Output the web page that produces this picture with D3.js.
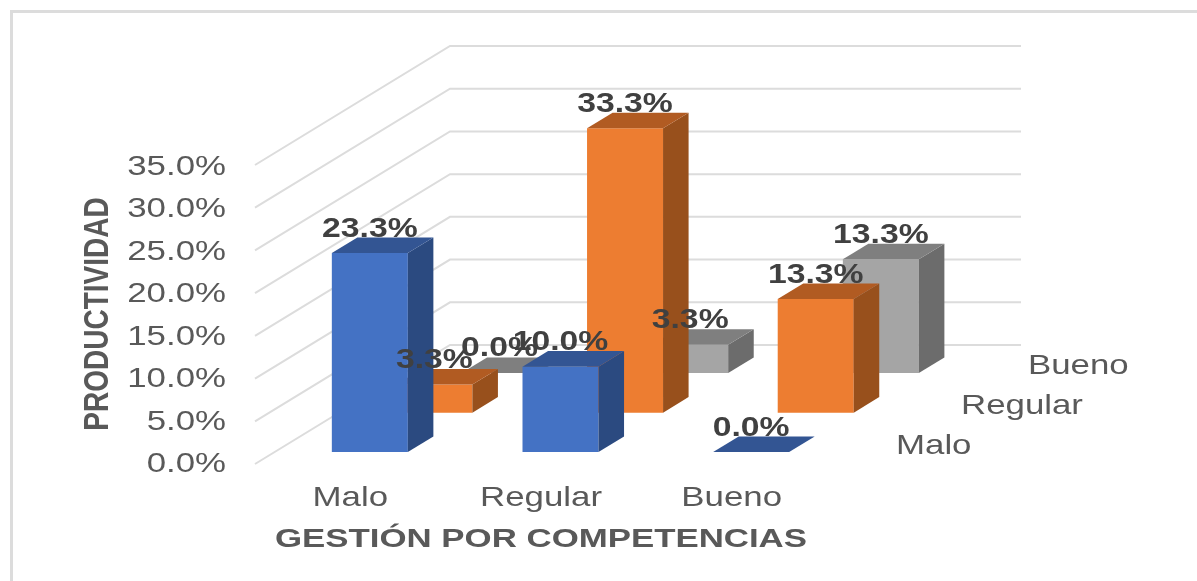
<!DOCTYPE html>
<html><head><meta charset="utf-8">
<script src="https://cdn.jsdelivr.net/npm/d3@7"></script>
<style>html,body{margin:0;padding:0;background:#fff;overflow:hidden}
svg{display:block;filter:blur(0.7px)}
text{font-family:"Liberation Sans",Arial,sans-serif}</style></head>
<body><div id="chart"></div>
<script>
const categories = ["Malo", "Regular", "Bueno"];
const seriesNames = ["Malo", "Regular", "Bueno"];
const valuesMalo = [23.3, 10.0, 0.0];
const valuesRegular = [3.3, 33.3, 13.3];
const valuesBueno = [0.0, 3.3, 13.3];
const seriesValues = [valuesMalo, valuesRegular, valuesBueno];
const yTicks = [0, 5, 10, 15, 20, 25, 30, 35];
const xTitle = "GESTIÓN POR COMPETENCIAS";
const yTitle = "PRODUCTIVIDAD";
const frontColors = ["#4472C4", "#ED7D31", "#A5A5A5"];
const topColors = ["#335593", "#B15B22", "#7F7F7F"];
const sideColors = ["#2B4A80", "#98501C", "#6C6C6C"];

const W = 1197, H = 581, SX = 1.29;
const svg = d3.select("#chart").append("svg").attr("width", W).attr("height", H);

// Projection: value scale (vertical), category band (horizontal), depth axis (oblique)
const yScale = d3.scaleLinear().domain([0, 35]).range([464, 165]);
const yLabel = d3.scaleLinear().domain([0, 35]).range([472, 175]);
const xBand = d3.scaleBand().domain(categories).range([255, 827]);
const depthX = d3.scaleLinear().domain([0, 1]).range([0, 195]);
const depthY = d3.scaleLinear().domain([0, 1]).range([0, -119]);
const rowDepth = d3.scaleOrdinal().domain(seriesNames).range([0.1, 0.431, 0.765]);
const barDepth = 0.131, barW = 76;

function pt(xp, val, d) { return [xp + depthX(d), yScale(val) + depthY(d)]; }
const poly = pts => pts.map(p => p.join(",")).join(" ");

// frame
svg.append("path").attr("d", `M11.5 ${H} V11.5 H${W}`).attr("fill", "none").attr("stroke", "#dcdcdc").attr("stroke-width", 3);

// gridlines
const gridG = svg.append("g").attr("fill", "none").attr("stroke", "#dcdcdc").attr("stroke-width", 2);
gridG.selectAll("path").data(yTicks).join("path")
  .attr("d", t => { const a = pt(255, t, 0), b = pt(255, t, 1); return `M${a}L${b}H1021`; });

// tick labels
svg.append("g").selectAll("text").data(yTicks).join("text")
  .attr("text-anchor", "end").attr("font-size", 27).attr("fill", "#595959")
  .attr("transform", t => `translate(226,${yLabel(t)}) scale(${SX},1)`)
  .text(t => t.toFixed(1) + "%");

// category labels
svg.append("g").selectAll("text").data(categories).join("text")
  .attr("text-anchor", "middle").attr("font-size", 27).attr("fill", "#595959")
  .attr("transform", c => `translate(${xBand(c) + xBand.bandwidth() / 2},506) scale(${SX},1)`)
  .text(c => c);

// series labels on the depth axis
const rowLabelX = d3.scaleOrdinal().domain(seriesNames).range([896, 961, 1028]);
const rowLabelY = d3.scaleOrdinal().domain(seriesNames).range([454, 414, 374]);
svg.append("g").selectAll("text").data(seriesNames).join("text")
  .attr("font-size", 27).attr("fill", "#595959")
  .attr("transform", s => `translate(${rowLabelX(s)},${rowLabelY(s)}) scale(${SX},1)`)
  .text(s => s);

// titles
svg.append("text").attr("text-anchor", "middle").attr("font-size", 26).attr("font-weight", "bold").attr("fill", "#595959")
  .attr("transform", `translate(541,547) scale(1.34,1)`).text(xTitle);
svg.append("text").attr("text-anchor", "middle").attr("font-size", 28).attr("font-weight", "bold").attr("fill", "#595959")
  .attr("transform", `translate(108,314) scale(1.27,1) rotate(-90)`).text(yTitle);

// bars, painted back row first
const bars = [];
seriesNames.forEach((s, si) => categories.forEach((c, ci) => bars.push({ s, si, c, ci, v: seriesValues[si][ci] })));
const ordered = bars.slice().sort((a, b) => b.si - a.si || a.ci - b.ci);
const barG = svg.append("g").selectAll("g").data(ordered).join("g");
const xLeft = b => xBand(b.c) + xBand.bandwidth() / 2 - barW / 2;
barG.each(function (b) {
  const g = d3.select(this), x0 = xLeft(b), x1 = x0 + barW, d0 = rowDepth(b.s), d1 = d0 + barDepth;
  if (b.v > 0) {
    g.append("polygon").attr("fill", frontColors[b.si]).attr("points", poly([pt(x0, 0, d0), pt(x1, 0, d0), pt(x1, b.v, d0), pt(x0, b.v, d0)]));
    g.append("polygon").attr("fill", sideColors[b.si]).attr("points", poly([pt(x1, 0, d0), pt(x1, 0, d1), pt(x1, b.v, d1), pt(x1, b.v, d0)]));
  }
  g.append("polygon").attr("fill", topColors[b.si]).attr("points", poly([pt(x0, b.v, d0), pt(x1, b.v, d0), pt(x1, b.v, d1), pt(x0, b.v, d1)]));
});

// data labels on top of all bars
svg.append("g").selectAll("text").data(ordered).join("text")
  .attr("text-anchor", "middle").attr("font-size", 27).attr("font-weight", "bold").attr("fill", "#404040")
  .attr("transform", b => { const p = pt(xLeft(b) + barW / 2, b.v, rowDepth(b.s)); return `translate(${p[0]},${p[1] - 16.5}) scale(1.25,1)`; })
  .text(b => b.v.toFixed(1) + "%");
</script></body></html>
